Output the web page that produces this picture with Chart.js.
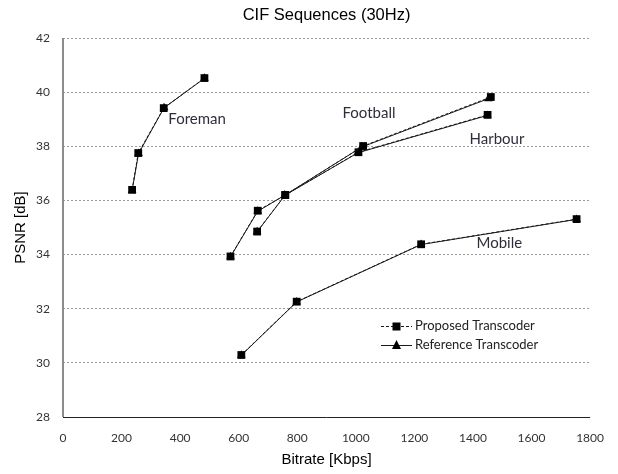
<!DOCTYPE html>
<html>
<head>
<meta charset="utf-8">
<script src="https://cdn.jsdelivr.net/npm/chart.js@4"></script>
<style>
  html, body { margin: 0; padding: 0; background: #fff; }
  #wrap { width: 618px; height: 474px; }
</style>
</head>
<body>
<div id="wrap"><canvas id="psnrChart" width="618" height="474"></canvas></div>
<script>
// values (bitrate in Kbps, PSNR in dB)
var foremanRate = [236, 257, 344, 483];
var foremanProp = [36.39, 37.75, 39.41, 40.52];
var foremanRefRate = [236, 258, 345, 483];
var foremanRef = [36.37, 37.73, 39.42, 40.51];

var footballRate = [572, 665, 759, 1025, 1461];
var footballProp = [33.93, 35.62, 36.20, 38.01, 39.82];
var footballRefRate = [572, 665, 757, 1020, 1453];
var footballRef = [33.92, 35.60, 36.19, 37.97, 39.76];

var harbourRate = [663, 759, 1009, 1450];
var harbourProp = [34.85, 36.20, 37.78, 39.16];
var harbourRefRate = [663, 758, 1007, 1449];
var harbourRef = [34.84, 36.19, 37.76, 39.14];

var mobileRate = [609, 798, 1223, 1754];
var mobileProp = [30.29, 32.26, 34.38, 35.31];
var mobileRefRate = [609, 798, 1223, 1754];
var mobileRef = [30.28, 32.25, 34.37, 35.30];

var seqNames = ["Foreman", "Football", "Harbour", "Mobile"];
var seqLabelX = [458, 1045, 1482, 1490];
var seqLabelY = [39.0, 39.23, 38.26, 34.44];

var chartTitle = "CIF Sequences (30Hz)";
var seriesNames = ["Proposed Transcoder", "Reference Transcoder"];
var xTicks = [0, 200, 400, 600, 800, 1000, 1200, 1400, 1600, 1800];
var yTicks = [28, 30, 32, 34, 36, 38, 40, 42];

function pts(xs, ys) {
  return xs.map(function(x, i) { return {x: x, y: ys[i]}; });
}

function proposed(xs, ys) {
  return {
    label: seriesNames[0],
    data: pts(xs, ys),
    showLine: true,
    borderColor: "#1a1a1a",
    borderWidth: 1,
    borderDash: [3, 2],
    pointStyle: "rect",
    pointRadius: 5.5,
    pointBackgroundColor: "#000",
    pointBorderColor: "#000",
    pointBorderWidth: 0
  };
}

function reference(xs, ys) {
  return {
    label: seriesNames[1],
    data: pts(xs, ys),
    showLine: true,
    borderColor: "#1a1a1a",
    borderWidth: 1,
    pointStyle: "triangle",
    pointRadius: 5,
    pointBackgroundColor: "#000",
    pointBorderColor: "#000",
    pointBorderWidth: 0
  };
}

var datasets = [
  proposed(foremanRate, foremanProp), reference(foremanRefRate, foremanRef),
  proposed(footballRate, footballProp), reference(footballRefRate, footballRef),
  proposed(harbourRate, harbourProp), reference(harbourRefRate, harbourRef),
  proposed(mobileRate, mobileProp), reference(mobileRefRate, mobileRef)
];

// title centred over the plot area, plus the solid left axis line
var plotTitle = {
  id: "plotTitle",
  afterDraw: function(chart) {
    var ctx = chart.ctx, a = chart.chartArea;
    ctx.save();
    ctx.font = "16.5px 'Liberation Sans'";
    ctx.fillStyle = "#000";
    ctx.textAlign = "center";
    ctx.textBaseline = "middle";
    ctx.fillText(chartTitle, (a.left + a.right) / 2, 15);
    ctx.restore();
  },
  beforeDatasetsDraw: function(chart) {
    var ctx = chart.ctx, a = chart.chartArea;
    ctx.save();
    ctx.strokeStyle = "#8c8c8c";
    ctx.lineWidth = 2;
    ctx.beginPath(); ctx.moveTo(a.left, a.top); ctx.lineTo(a.left, a.bottom); ctx.stroke();
    ctx.strokeStyle = "#222";
    ctx.lineWidth = 1;
    ctx.beginPath(); ctx.moveTo(a.left, a.bottom + 0.5); ctx.lineTo(a.right, a.bottom + 0.5); ctx.stroke();
    ctx.restore();
  }
};

// sequence names written next to the curves
var seqLabels = {
  id: "seqLabels",
  afterDatasetsDraw: function(chart) {
    var ctx = chart.ctx, xs = chart.scales.x, ys = chart.scales.y;
    ctx.save();
    ctx.font = "15px Lato";
    ctx.fillStyle = "#2e2e3a";
    ctx.textAlign = "center";
    ctx.textBaseline = "middle";
    seqNames.forEach(function(n, i) {
      ctx.fillText(n, xs.getPixelForValue(seqLabelX[i]), ys.getPixelForValue(seqLabelY[i]));
    });
    ctx.restore();
  }
};

// legend sits inside the plot, lower right
var innerLegend = {
  id: "innerLegend",
  afterDatasetsDraw: function(chart) {
    var ctx = chart.ctx, a = chart.chartArea;
    var x0 = a.left + 318, y0 = a.top + 288, gap = 19;
    ctx.save();
    ctx.strokeStyle = "#1a1a1a";
    ctx.fillStyle = "#000";
    ctx.lineWidth = 1;
    // proposed
    ctx.setLineDash([3, 2]);
    ctx.beginPath(); ctx.moveTo(x0, y0 + 0.5); ctx.lineTo(x0 + 31, y0 + 0.5); ctx.stroke();
    ctx.setLineDash([]);
    ctx.fillRect(x0 + 11.5, y0 - 3.5, 8, 8);
    // reference
    ctx.beginPath(); ctx.moveTo(x0, y0 + gap + 0.5); ctx.lineTo(x0 + 31, y0 + gap + 0.5); ctx.stroke();
    ctx.beginPath();
    ctx.moveTo(x0 + 15.5, y0 + gap - 5);
    ctx.lineTo(x0 + 20, y0 + gap + 4);
    ctx.lineTo(x0 + 11, y0 + gap + 4);
    ctx.closePath(); ctx.fill();
    ctx.font = "13px Lato";
    ctx.fillStyle = "#222";
    ctx.textBaseline = "middle";
    ctx.fillText(seriesNames[0], x0 + 34, y0);
    ctx.fillText(seriesNames[1], x0 + 34, y0 + gap);
    ctx.restore();
  }
};

var chart = new Chart(document.getElementById("psnrChart"), {
  type: "scatter",
  data: {datasets: datasets},
  plugins: [plotTitle, seqLabels, innerLegend],
  options: {
    responsive: false,
    animation: false,
    layout: {padding: {left: 0, right: 22, top: 38, bottom: 0}},
    plugins: {
      legend: {display: false},
      tooltip: {enabled: false},
      title: {display: false}
    },
    scales: {
      x: {
        type: "linear",
        min: 0, max: 1800,
        afterBuildTicks: function(s) { s.ticks = xTicks.map(function(v) { return {value: v}; }); },
        afterFit: function(s) { s.height = 57; },
        grid: {display: false, drawTicks: false},
        border: {display: false},
        ticks: {color: "#333", padding: 14, maxRotation: 0,
          callback: function(v) { return String(v); },
          font: {family: "Lato", size: 12}},
        title: {display: true, text: "Bitrate [Kbps]", color: "#000",
          font: {family: "Liberation Sans", size: 15}, padding: {top: 0, bottom: 5}}
      },
      y: {
        min: 28, max: 42,
        afterBuildTicks: function(s) { s.ticks = yTicks.map(function(v) { return {value: v}; }); },
        afterFit: function(s) { s.width = 63; },
        grid: {color: "#9a9a9a", lineWidth: 1, drawTicks: false},
        border: {display: false, dash: [2, 2]},
        ticks: {color: "#333", padding: 13,
          callback: function(v) { return String(v); },
          font: {family: "Lato", size: 12}},
        title: {display: true, text: "PSNR [dB]", color: "#000",
          font: {family: "Liberation Sans", size: 15}, padding: {top: 12, bottom: 0}}
      }
    }
  }
});
</script>
</body>
</html>
